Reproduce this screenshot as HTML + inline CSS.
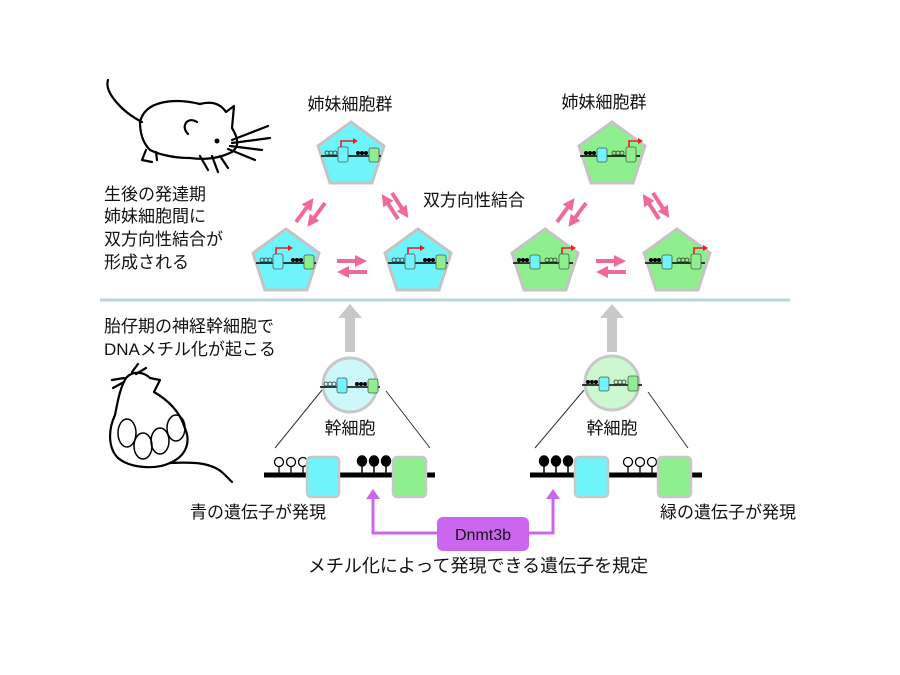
<!DOCTYPE html>
<html><head><meta charset="utf-8"><style>
body{margin:0;background:#fff}
svg{display:block}
text{font-family:"Liberation Sans","Noto Sans CJK JP",sans-serif;font-size:17px;fill:#111}
</style></head><body>
<svg width="900" height="675" viewBox="0 0 900 675" xmlns="http://www.w3.org/2000/svg">
<defs>
<marker id="pa" markerWidth="3" markerHeight="3" refX="1.5" refY="1.5" orient="auto" markerUnits="strokeWidth"><path d="M0,0 L3,1.5 L0,3z" fill="#f06a95"/></marker>
<g id="pentB"><polygon points="0,-30 33,-6 21,31 -21,31 -33,-6" fill="#6ff4fb" stroke="#c4c4c4" stroke-width="3"/></g>
<g id="pentG"><polygon points="0,-30 33,-6 21,31 -21,31 -33,-6" fill="#8ef08c" stroke="#c4c4c4" stroke-width="3"/></g>
<g id="coreB">
<line x1="-30" y1="4" x2="30" y2="4" stroke="#000" stroke-width="1.6"/>
<g fill="none" stroke="#333" stroke-width="0.8"><circle cx="-24" cy="1" r="2"/><circle cx="-20" cy="1" r="2"/><circle cx="-16" cy="1" r="2"/></g>
<rect x="-13" y="-5" width="10" height="15" rx="2" fill="#6ff4fb" stroke="#555" stroke-width="0.8"/>
<g fill="#000"><circle cx="7" cy="1" r="2"/><circle cx="11" cy="1" r="2"/><circle cx="15" cy="1" r="2"/></g>
<rect x="18" y="-4" width="10" height="14" rx="2" fill="#8ef08c" stroke="#555" stroke-width="0.8"/>
</g>
<g id="geneB"><use href="#coreB"/>
<path d="M-10,-5 V-11 H2" fill="none" stroke="#e62020" stroke-width="1.6"/><path d="M2,-14 L7,-11 L2,-8z" fill="#e62020"/></g>
<g id="coreG">
<line x1="-30" y1="4" x2="30" y2="4" stroke="#000" stroke-width="1.6"/>
<g fill="#000"><circle cx="-24" cy="1" r="2"/><circle cx="-20" cy="1" r="2"/><circle cx="-16" cy="1" r="2"/></g>
<rect x="-13" y="-4" width="10" height="14" rx="2" fill="#6ff4fb" stroke="#555" stroke-width="0.8"/>
<g fill="none" stroke="#333" stroke-width="0.8"><circle cx="4" cy="1" r="2"/><circle cx="8" cy="1" r="2"/><circle cx="12" cy="1" r="2"/></g>
<rect x="16" y="-5" width="10" height="15" rx="2" fill="#8ef08c" stroke="#555" stroke-width="0.8"/>
</g>
<g id="geneG"><use href="#coreG"/>
<path d="M19,-5 V-11 H28" fill="none" stroke="#e62020" stroke-width="1.6"/><path d="M28,-14 L33,-11 L28,-8z" fill="#e62020"/></g>
</defs>

<!-- top mouse -->
<g fill="none" stroke="#000" stroke-width="2.2" stroke-linecap="round" stroke-linejoin="round">
<path d="M108,80 C104,92 122,112 142,122"/>
<path d="M140,122 C145,100 175,98 200,104 C215,100 222,106 226,112 L234,106 L232,128 C238,138 240,146 232,152 C220,158 205,160 190,158 C175,158 160,155 150,150 C142,142 140,132 140,122z"/>
<path d="M197,122 C188,116 180,126 188,134"/>
<path d="M146,150 L142,160 L152,162 M156,152 L157,160"/>
<path d="M232,140 L268,126 M232,143 L270,138 M230,146 L262,150 M228,149 L255,160"/>
<path d="M200,156 L208,170 M212,156 L218,172 M220,156 L228,168"/>
</g>
<circle cx="217" cy="141" r="2.5" fill="#000"/>

<!-- bottom mouse -->
<g fill="none" stroke="#000" stroke-width="2.2" stroke-linecap="round" stroke-linejoin="round">
<path d="M126,378 C133,370 144,372 150,378 L160,380 L154,392 C168,400 180,412 184,426 C192,442 186,456 170,463 C155,470 130,468 118,458 C108,448 108,430 115,415 C118,400 120,388 126,378z"/>
<path d="M170,463 C192,462 212,462 224,474 L232,482"/>
<path d="M124,378 L112,380 M124,382 L113,388 M132,372 L138,364 M136,374 L146,368"/>
</g>
<g fill="none" stroke="#000" stroke-width="1.5">
<ellipse cx="127" cy="433" rx="9" ry="14"/><ellipse cx="143" cy="446" rx="9" ry="13"/><ellipse cx="160" cy="441" rx="9" ry="13"/><ellipse cx="176" cy="428" rx="9" ry="13"/>
</g>

<line x1="100" y1="300" x2="790" y2="300" stroke="#b9d4dc" stroke-width="3"/>

<text x="350" y="110" text-anchor="middle">姉妹細胞群</text>
<text x="604" y="108" text-anchor="middle">姉妹細胞群</text>
<text x="474" y="206" text-anchor="middle">双方向性結合</text>
<text x="104" y="200">生後の発達期</text>
<text x="104" y="222">姉妹細胞間に</text>
<text x="104" y="245">双方向性結合が</text>
<text x="104" y="268">形成される</text>
<text x="104" y="332">胎仔期の神経幹細胞で</text>
<text x="104" y="355">DNAメチル化が起こる</text>
<text x="350" y="434" text-anchor="middle">幹細胞</text>
<text x="612" y="434" text-anchor="middle">幹細胞</text>
<text x="190" y="518">青の遺伝子が発現</text>
<text x="660" y="518">緑の遺伝子が発現</text>
<text x="478" y="572" text-anchor="middle" style="font-size:18px">メチル化によって発現できる遺伝子を規定</text>

<use href="#pentB" x="351" y="152"/><use href="#geneB" x="351" y="152"/>
<use href="#pentB" x="286" y="259"/><use href="#geneB" x="286" y="259"/>
<use href="#pentB" x="418" y="259"/><use href="#geneB" x="418" y="259"/>
<use href="#pentG" x="612" y="152"/><use href="#geneG" x="610" y="152"/>
<use href="#pentG" x="545" y="259"/><use href="#geneG" x="543" y="259"/>
<use href="#pentG" x="677" y="259"/><use href="#geneG" x="675" y="259"/>

<g stroke="#f06a95" stroke-width="4" marker-end="url(#pa)">
<line x1="296" y1="222" x2="310" y2="203"/><line x1="325" y1="203" x2="311" y2="222"/>
<line x1="392" y1="193" x2="405" y2="213"/><line x1="398" y1="219" x2="385" y2="199"/>
<line x1="337" y1="261" x2="361" y2="261"/><line x1="367" y1="272" x2="343" y2="272"/>
<line x1="557" y1="222" x2="571" y2="203"/><line x1="586" y1="203" x2="572" y2="222"/>
<line x1="653" y1="193" x2="666" y2="213"/><line x1="659" y1="219" x2="646" y2="199"/>
<line x1="596" y1="261" x2="620" y2="261"/><line x1="626" y1="272" x2="602" y2="272"/>
</g>

<path d="M345,352 V318 H338 L350,304 L362,318 H355 V352z" fill="#c8c8c8"/>
<path d="M607,352 V318 H600 L612,304 L624,318 H617 V352z" fill="#c8c8c8"/>

<circle cx="350" cy="385" r="27" fill="#cdf8fb" stroke="#c8c8c8" stroke-width="3"/>
<use href="#coreB" x="350" y="383"/>
<circle cx="612" cy="383" r="27" fill="#cdf8cf" stroke="#c8c8c8" stroke-width="3"/>
<use href="#coreG" x="612" y="381"/>
<g stroke="#333" stroke-width="1">
<line x1="322" y1="390" x2="275" y2="448"/><line x1="386" y1="391" x2="430" y2="448"/>
<line x1="584" y1="390" x2="535" y2="448"/><line x1="648" y1="392" x2="688" y2="448"/>
</g>

<g stroke="#000" stroke-width="5"><line x1="264" y1="475" x2="435" y2="475"/><line x1="530" y1="475" x2="702" y2="475"/></g>
<g stroke="#000" stroke-width="1.3" fill="#fff">
<line x1="279" y1="466" x2="279" y2="473"/><line x1="291" y1="466" x2="291" y2="473"/><line x1="303" y1="466" x2="303" y2="473"/>
<circle cx="279" cy="462" r="4.5"/><circle cx="291" cy="462" r="4.5"/><circle cx="303" cy="462" r="4.5"/>
<line x1="628" y1="466" x2="628" y2="473"/><line x1="640" y1="466" x2="640" y2="473"/><line x1="652" y1="466" x2="652" y2="473"/>
<circle cx="628" cy="462" r="4.5"/><circle cx="640" cy="462" r="4.5"/><circle cx="652" cy="462" r="4.5"/>
</g>
<g stroke="#000" stroke-width="1.5" fill="#000">
<line x1="362" y1="466" x2="362" y2="473"/><line x1="374" y1="466" x2="374" y2="473"/><line x1="386" y1="466" x2="386" y2="473"/>
<ellipse cx="362" cy="461" rx="4.5" ry="5"/><ellipse cx="374" cy="461" rx="4.5" ry="5"/><ellipse cx="386" cy="461" rx="4.5" ry="5"/>
<line x1="544" y1="466" x2="544" y2="473"/><line x1="556" y1="466" x2="556" y2="473"/><line x1="568" y1="466" x2="568" y2="473"/>
<ellipse cx="544" cy="461" rx="4.5" ry="5"/><ellipse cx="556" cy="461" rx="4.5" ry="5"/><ellipse cx="568" cy="461" rx="4.5" ry="5"/>
</g>
<g stroke="#c8c8c8" stroke-width="2.5">
<rect x="307" y="457" width="32" height="40" rx="4" fill="#6ff4fb"/>
<rect x="393" y="457" width="33" height="40" rx="4" fill="#8ef08c"/>
<rect x="575" y="457" width="33" height="40" rx="4" fill="#6ff4fb"/>
<rect x="658" y="457" width="33" height="40" rx="4" fill="#8ef08c"/>
</g>

<path d="M440,533 H373 V497" fill="none" stroke="#cc66ee" stroke-width="3"/>
<path d="M366,499 L373,489 L380,499z" fill="#cc66ee"/>
<path d="M526,533 H553 V497" fill="none" stroke="#cc66ee" stroke-width="3"/>
<path d="M546,499 L553,489 L560,499z" fill="#cc66ee"/>
<rect x="437" y="517" width="92" height="34" rx="6" fill="#cc66ee"/>
<text x="483" y="540" text-anchor="middle" style="font-size:16px">Dnmt3b</text>
</svg>
</body></html>
